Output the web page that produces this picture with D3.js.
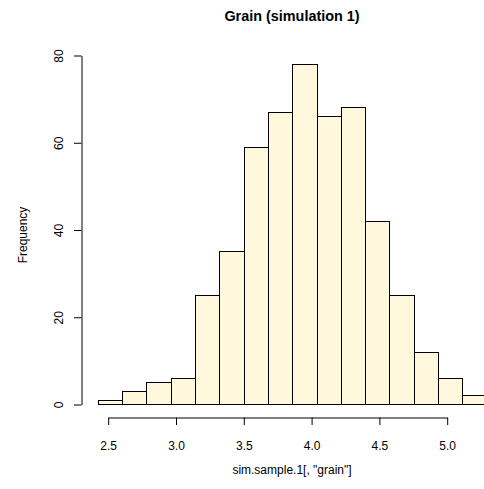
<!DOCTYPE html>
<html>
<head>
<meta charset="utf-8">
<script src="https://cdn.jsdelivr.net/npm/d3@7"></script>
<style>
  html, body { margin: 0; padding: 0; background: #ffffff; }
  svg { display: block; font-family: "Liberation Sans", Arial, Helvetica, sans-serif; }
</style>
</head>
<body>
<svg id="chart" width="484" height="489"></svg>
<script>
// Histogram bin edges (grain values) and the count in each bin
const binEdges = [2.428, 2.607, 2.786, 2.965, 3.144, 3.324, 3.503, 3.682, 3.861,
                  4.040, 4.219, 4.398, 4.577, 4.756, 4.935, 5.115, 5.294];
const binCounts = [1, 3, 5, 6, 25, 35, 59, 67, 78, 66, 68, 42, 25, 12, 6, 2];

const xTicks = [2.5, 3.0, 3.5, 4.0, 4.5, 5.0];
const yTicks = [0, 20, 40, 60, 80];

const titleText = "Grain (simulation 1)";
const xLabel = 'sim.sample.1[, "grain"]';
const yLabel = "Frequency";

const svg = d3.select("#chart");

const x = d3.scaleLinear().domain([2.5, 5.0]).range([107.7, 446.7]);
const y = d3.scaleLinear().domain([0, 80]).range([404, 55]);

const crisp = v => Math.round(v) + 0.5;

const bins = binCounts.map((c, i) => ({ x0: binEdges[i], x1: binEdges[i + 1], count: c }));

// bars
svg.append("g")
  .selectAll("rect")
  .data(bins)
  .join("rect")
  .attr("x", d => crisp(x(d.x0)))
  .attr("width", d => crisp(x(d.x1)) - crisp(x(d.x0)))
  .attr("y", d => crisp(y(d.count)))
  .attr("height", d => crisp(y(0)) - crisp(y(d.count)))
  .attr("fill", "#FFF8DC")
  .attr("stroke", "#000")
  .attr("stroke-width", 1);

// x axis
const xAxis = svg.append("g")
  .attr("transform", "translate(0.5,417.5)")
  .call(d3.axisBottom(x).tickValues(xTicks).tickFormat(d3.format(".1f"))
    .tickSize(7.5).tickSizeOuter(0));
xAxis.select(".domain").attr("stroke", "#000");
xAxis.selectAll(".tick line").attr("stroke", "#000");
xAxis.selectAll(".tick text")
  .attr("y", 32.3).attr("dy", 0)
  .attr("font-size", 12).attr("fill", "#000")
  .attr("font-family", "Liberation Sans, Arial, sans-serif");

// y axis
const yAxis = svg.append("g")
  .attr("transform", "translate(81.5,0.5)")
  .call(d3.axisLeft(y).tickValues(yTicks).tickSize(7.5).tickSizeOuter(0));
yAxis.select(".domain").attr("stroke", "#000");
yAxis.selectAll(".tick line").attr("stroke", "#000");
yAxis.selectAll(".tick text")
  .attr("x", null).attr("dy", null)
  .attr("text-anchor", "middle")
  .attr("transform", "translate(-19,0) rotate(-90)")
  .attr("font-size", 12).attr("fill", "#000")
  .attr("font-family", "Liberation Sans, Arial, sans-serif");

// title
svg.append("text")
  .attr("x", 292).attr("y", 20.7)
  .attr("text-anchor", "middle")
  .attr("font-size", 14.4).attr("font-weight", "bold")
  .text(titleText);

// x label
svg.append("text")
  .attr("x", 292).attr("y", 474)
  .attr("text-anchor", "middle")
  .attr("font-size", 12)
  .text(xLabel);

// y label
svg.append("text")
  .attr("transform", "translate(27,235) rotate(-90)")
  .attr("text-anchor", "middle")
  .attr("font-size", 12)
  .text(yLabel);
</script>
</body>
</html>
